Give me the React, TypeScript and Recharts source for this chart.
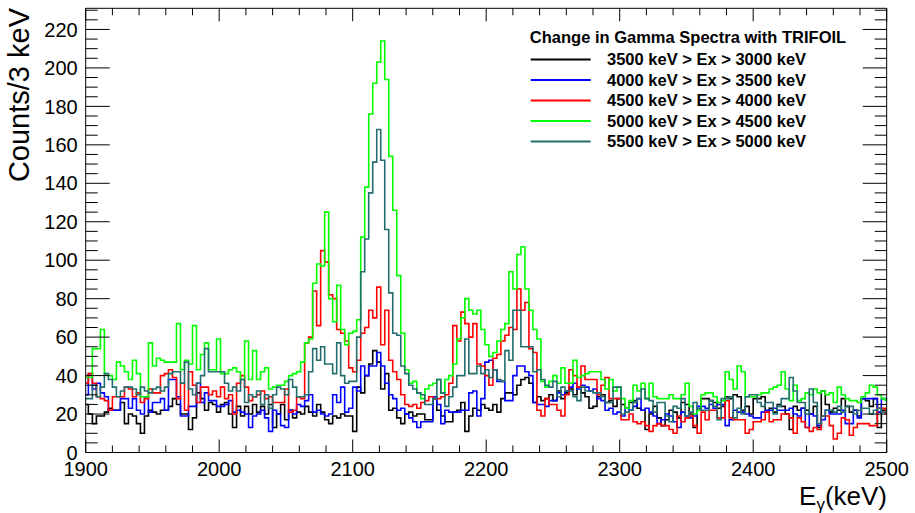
import React from 'react';
import { LineChart, Line, XAxis, YAxis } from 'recharts';

// Bin left edges: 1899 + 3*k keV (3 keV bins), k = 0..200
const BIN_START = 1899;
const BIN_WIDTH = 3;

const black = [
  25, 20, 15, 19, 19, 21, 23, 22, 22, 26, 15, 20, 19, 15, 10, 19, 22, 21, 20, 22, 22, 24, 28, 25, 20, 20, 12, 18, 31, 28, 22, 26, 25,
  21, 25, 26, 20, 13, 24, 19, 24, 20, 25, 21, 24, 20, 25, 13, 20, 25, 17, 22,
  18, 21, 20, 24, 21, 19, 25, 21, 17, 15, 19, 18, 20, 19, 19, 11, 34, 31, 40, 46, 53, 47, 33, 41, 22, 23, 18, 15, 20, 21, 19, 20, 20,
  17, 17, 28, 22, 19, 16, 16, 21, 22, 26, 11, 19, 23, 22, 25, 23, 22, 25, 21, 28, 31, 31, 30, 35, 38, 39, 36, 26, 29,
  27, 28, 30, 27,
  32, 28, 31, 33, 30, 34, 31, 29, 23, 24, 29, 30, 26, 27, 24, 28, 25, 23, 26, 27, 23, 22, 12, 20, 24, 18, 14, 17, 22,
  21, 18, 26, 25, 20, 13, 22, 28, 28, 27, 26, 23, 24, 29, 28, 30, 29, 22, 24, 20, 28, 28, 29, 21, 23, 21, 25, 24, 20, 12, 24, 22,
  23, 22, 20, 24, 13, 32, 25, 21, 23, 22, 28, 24, 21, 22, 19, 28, 27, 24, 28, 13, 22, 22,
];

const blue = [
  30, 41, 33, 36, 31, 29, 22, 22, 22, 28, 28, 23, 28, 22, 20, 29, 21, 26, 26, 28, 22, 38, 38, 29, 19, 19, 24, 24, 36, 26, 31, 27, 27,
  24, 24, 25, 27, 21, 22, 21, 20, 13, 19, 20, 22, 18, 11, 22, 20, 14, 13, 22,
  20, 25, 24, 27, 30, 21, 22, 20, 19, 20, 30, 26, 34, 21, 23, 34, 32, 45, 40, 45, 45, 52, 45, 36, 30, 28, 22, 23, 20, 18, 16, 13, 16,
  16, 16, 29, 25, 15, 22, 21, 21, 21, 22, 22, 31, 32, 19, 28, 47, 48, 43, 37, 37, 27, 27, 40, 45, 45, 42, 40, 26, 25,
  25, 24, 27, 27,
  31, 30, 32, 34, 36, 33, 35, 34, 32, 33, 28, 27, 22, 23, 20, 21, 19, 23, 22, 24, 28, 22, 23, 21, 19, 15, 17, 20, 19,
  16, 13, 21, 19, 18, 19, 24, 24, 23, 25, 23, 25, 25, 14, 17, 22, 21, 21, 20, 19, 18, 18, 21, 22, 22, 23, 22,
  22, 22, 23, 20, 19, 23, 13, 20, 19, 14, 17, 22, 20, 20, 20, 22, 15, 15, 22, 18, 28, 28, 28, 28, 21, 28, 28,
];

const red = [
  36, 41, 36, 29, 28, 27, 22, 29, 29, 29, 34, 33, 29, 31, 26, 28, 33, 31, 31, 40, 41, 43, 39, 28, 36, 22, 42, 35, 26, 34, 34, 30, 32,
  29, 34, 28, 30, 20, 36, 40, 34, 27, 29, 30, 32, 28, 29, 26, 26, 26, 33, 21, 22, 29, 28, 57, 60,
  84, 66, 105, 99, 82, 80, 64, 62, 58, 44, 42, 48, 62, 65, 74, 70, 86, 56, 74, 48, 42, 38, 30, 25, 24, 25, 23, 26,
  27, 29, 28, 28, 29, 30, 36, 66, 58, 73, 67, 60, 67, 46, 45, 40, 35, 49, 51, 58, 61, 65, 64, 85, 74, 78, 54, 52, 22, 19, 28, 25, 25,
  22, 19, 30, 43, 40, 34, 45, 38, 38, 38, 30, 35, 39, 28, 28, 28, 17, 17, 20, 16, 15, 16, 14, 11, 14, 15, 14, 14, 12,
  10, 19, 16, 18, 19, 14, 10, 21, 17, 22, 22, 18, 18, 27, 18, 17, 17, 17, 10, 12, 16, 16, 17, 21, 16, 17, 17,
  20, 20, 18, 10, 18, 16, 13, 11, 13, 12, 19, 19, 14, 7, 10, 18, 17, 9, 13, 15, 15, 15, 14, 14, 23, 23, 20,
];

const green = [
  39, 39, 54, 54, 64, 41, 40, 38, 47, 45, 42, 38, 48, 41, 29, 29, 57, 45, 49, 48, 47, 47, 47, 67, 43, 48, 46, 66, 43, 51, 57, 43, 43,
  59, 41, 41, 43, 44, 42, 38, 58, 38, 53, 38, 42, 44, 33, 34, 35, 35, 37, 40, 41, 42, 47, 57, 59,
  88, 98, 97, 125, 80, 68, 87, 64, 56, 62, 63, 69, 112, 138, 176, 192, 203, 214, 194, 154, 126, 92, 62, 43, 36, 37, 31, 28,
  33, 35, 36, 38, 31, 38, 40, 46, 59, 70, 80, 74, 72, 74, 64, 56, 50, 52, 58, 64, 67, 94, 85, 103, 107, 85, 74, 64, 59, 37, 34, 37, 40,
  36, 44, 36, 36, 48, 39, 40, 41, 42, 42, 42, 38, 33, 38, 32, 34, 28, 23, 27, 35, 32, 36, 28, 36, 29, 28, 28, 28, 30, 28,
  28, 30, 36, 24, 20, 22, 30, 31, 31, 29, 26, 27, 42, 38, 33, 45, 42, 29, 29, 29, 30, 31, 31, 33, 34, 35, 42, 33, 27, 35, 27, 28, 31,
  30, 33, 31, 32, 30, 31, 26, 34, 30, 28, 27, 27, 26, 29, 31, 35, 34, 30, 28, 27,
];

const teal = [
  28, 28, 35, 29, 34, 41, 38, 34, 29, 32, 34, 34, 33, 30, 34, 32, 31, 33, 34, 32, 34, 41, 42, 42, 36, 47, 33, 30, 36, 40, 54, 42, 42,
  42, 42, 36, 32, 34, 32, 38, 26, 30, 29, 32, 25, 30, 23, 30, 34, 33, 30, 38,
  34, 29, 29, 30, 42, 54, 48, 55, 46, 46, 41, 57, 40, 36, 37, 37, 60, 94, 111, 135, 151, 168, 152, 116, 83, 62, 61, 45, 41, 35, 33, 31, 30,
  25, 25, 28, 38, 31, 24, 29, 34, 40, 40, 59, 41, 41, 45, 41, 43, 39, 43, 38, 37, 53, 48, 74, 74, 55, 55, 55, 42, 43,
  38, 35, 34, 37, 29, 34, 32, 32, 29, 27, 34, 32, 32, 31, 31, 29, 26, 26, 34, 34, 20, 21, 22, 26, 28, 33, 28, 27, 21, 26, 26, 19, 16,
  24, 23, 28, 19, 21, 26, 23, 22, 22, 27, 24, 17, 28, 28, 29, 18, 23, 20, 29, 30, 30, 26, 24, 26, 26, 20, 24, 28, 28, 39, 32, 26, 26, 20, 33, 26, 15, 19, 22, 22, 21, 24, 21, 24, 24, 20, 22, 23, 23, 20, 22, 23, 21, 21,
];

const seriesLabels = [
  '3500 keV > Ex > 3000 keV',
  '4000 keV > Ex > 3500 keV',
  '4500 keV > Ex > 4000 keV',
  '5000 keV > Ex > 4500 keV',
  '5500 keV > Ex > 5000 keV',
];
const seriesKeys = ['s0', 's1', 's2', 's3', 's4'];
const seriesColors = ['#000000', '#0000ff', '#ff0000', '#00ff00', '#226e6e'];
const legendTitle = 'Change in Gamma Spectra with TRIFOIL';

const xMajorLabels = [1900, 2000, 2100, 2200, 2300, 2400, 2500];
const yMajorLabels = [0, 20, 40, 60, 80, 100, 120, 140, 160, 180, 200, 220];

const X_MIN = 1900;
const X_MAX = 2500;
const Y_MAX = 231;

const allSeries = [black, blue, red, green, teal];

const data: any[] = black.map((_, k) => {
  const row: any = { e: BIN_START + BIN_WIDTH * k };
  allSeries.forEach((s, i) => (row[seriesKeys[i]] = s[k]));
  return row;
});
// right edge of last bin
{
  const last = black.length - 1;
  const row: any = { e: BIN_START + BIN_WIDTH * (last + 1) };
  allSeries.forEach((s, i) => (row[seriesKeys[i]] = s[last]));
  data.push(row);
}

const xTicks: number[] = [];
for (let v = X_MIN; v <= X_MAX; v += 20) xTicks.push(v);
const yTicks: number[] = [];
for (let v = 0; v <= 230; v += 5) yTicks.push(v);

const FONT = '"Liberation Sans", Arial, Helvetica, sans-serif';

const BottomTick = (p: any) => {
  const { x, y, payload } = p;
  const major = xMajorLabels.includes(payload.value);
  return (
    <g>
      <line x1={x} x2={x} y1={y} y2={y - (major ? 13 : 7)} stroke="#000" strokeWidth={1} />
      {major && (
        <text x={x} y={y + 23.5} textAnchor="middle" fontSize={20} fontFamily={FONT} fill="#000">
          {payload.value}
        </text>
      )}
    </g>
  );
};

const TopTick = (p: any) => {
  const { x, y, payload } = p;
  const major = xMajorLabels.includes(payload.value);
  return <line x1={x} x2={x} y1={y} y2={y + (major ? 13 : 7)} stroke="#000" strokeWidth={1} />;
};

const LeftTick = (p: any) => {
  const { x, y, payload } = p;
  const major = yMajorLabels.includes(payload.value);
  return (
    <g>
      <line x1={x} x2={x + (major ? 24 : 12)} y1={y} y2={y} stroke="#000" strokeWidth={1} />
      {major && (
        <text x={x - 8} y={y} dy="0.36em" textAnchor="end" fontSize={20} fontFamily={FONT} fill="#000">
          {payload.value}
        </text>
      )}
    </g>
  );
};

const RightTick = (p: any) => {
  const { x, y, payload } = p;
  const major = yMajorLabels.includes(payload.value);
  return <line x1={x} x2={x - (major ? 24 : 12)} y1={y} y2={y} stroke="#000" strokeWidth={1} />;
};

const legendRowY = [59.5, 80, 100.5, 121, 141.5];

export default function App() {
  return (
    <div style={{ position: 'absolute', left: 0, top: 0, width: 915, height: 513, background: '#fff' }}>
      <LineChart
        width={915}
        height={513}
        data={data}
        margin={{ top: 7.3, right: 27.3, bottom: 59.5, left: 0 }}
      >
        <XAxis
          dataKey="e"
          type="number"
          domain={[X_MIN, X_MAX]}
          allowDataOverflow
          ticks={xTicks}
          interval={0}
          tickLine={false}
          tickSize={0}
          tickMargin={0}
          height={1}
          axisLine={{ stroke: '#000', strokeWidth: 1 }}
          tick={<BottomTick />}
        />
        <XAxis
          xAxisId="top"
          orientation="top"
          dataKey="e"
          type="number"
          domain={[X_MIN, X_MAX]}
          allowDataOverflow
          ticks={xTicks}
          interval={0}
          tickLine={false}
          tickSize={0}
          tickMargin={0}
          height={1}
          axisLine={{ stroke: '#000', strokeWidth: 1 }}
          tick={<TopTick />}
        />
        <YAxis
          type="number"
          domain={[0, Y_MAX]}
          allowDataOverflow
          ticks={yTicks}
          interval={0}
          tickLine={false}
          tickSize={0}
          tickMargin={0}
          width={85.7}
          axisLine={{ stroke: '#000', strokeWidth: 1 }}
          tick={<LeftTick />}
        />
        <YAxis
          yAxisId="right"
          orientation="right"
          type="number"
          domain={[0, Y_MAX]}
          allowDataOverflow
          ticks={yTicks}
          interval={0}
          tickLine={false}
          tickSize={0}
          tickMargin={0}
          width={1}
          axisLine={{ stroke: '#000', strokeWidth: 1 }}
          tick={<RightTick />}
        />
        {seriesKeys.map((key, i) => (
          <Line
            key={key}
            dataKey={key}
            type="stepAfter"
            stroke={seriesColors[i]}
            strokeWidth={1.6}
            dot={false}
            activeDot={false}
            isAnimationActive={false}
          />
        ))}
      </LineChart>
      <svg
        width={915}
        height={513}
        style={{ position: 'absolute', left: 0, top: 0, pointerEvents: 'none' }}
      >
        <text
          transform="translate(28.5, 8) rotate(-90)"
          textAnchor="end"
          fontSize={29}
          fontFamily={FONT}
          fill="#000"
        >
          Counts/3 keV
        </text>
        <text x={887} y={505} textAnchor="end" fontSize={26} fontFamily={FONT} fill="#000">
          E
          <tspan fontSize={17} dy={5}>γ</tspan>
          <tspan dy={-5}>(keV)</tspan>
        </text>
        <text x={688} y={43} textAnchor="middle" fontSize={16.5} fontWeight="bold" fontFamily={FONT} fill="#000">
          {legendTitle}
        </text>
        {seriesLabels.map((lab, i) => (
          <g key={lab}>
            <rect x={530.7} y={legendRowY[i] - 1} width={60} height={2} fill={seriesColors[i]} />
            <text x={607} y={legendRowY[i]} dy="0.36em" fontSize={16.5} fontWeight="bold" fontFamily={FONT} fill="#000">
              {lab}
            </text>
          </g>
        ))}
      </svg>
    </div>
  );
}
